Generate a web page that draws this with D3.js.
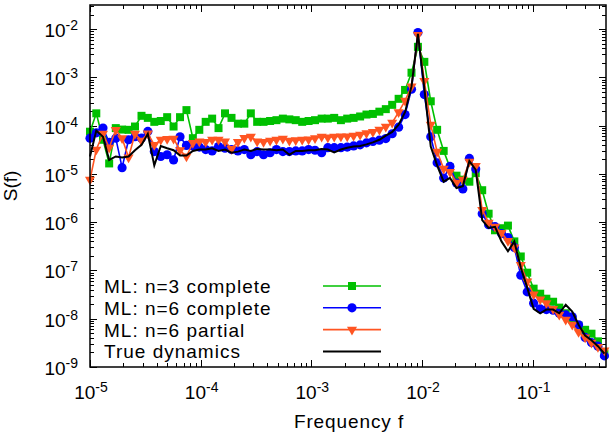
<!DOCTYPE html>
<html>
<head>
<meta charset="utf-8">
<script src="https://cdn.jsdelivr.net/npm/d3@7"></script>
<style>
  body { margin: 0; background: #fff; }
  svg { display: block; font-family: "Liberation Sans", Arial, sans-serif; }
</style>
</head>
<body>
<svg id="chart" width="611" height="437"></svg>
<script>
// frequency grid
const freqs = [
  1.00e-5, 1.14e-5, 1.31e-5, 1.49e-5, 1.71e-5, 1.95e-5, 2.23e-5, 2.55e-5, 2.92e-5, 3.33e-5,
  3.81e-5, 4.36e-5, 4.98e-5, 5.69e-5, 6.51e-5, 7.44e-5, 8.50e-5, 9.72e-5, 1.11e-4, 1.27e-4,
  1.45e-4, 1.66e-4, 1.90e-4, 2.17e-4, 2.48e-4, 2.84e-4, 3.24e-4, 3.70e-4, 4.24e-4, 4.84e-4,
  5.53e-4, 6.33e-4, 7.23e-4, 8.27e-4, 9.45e-4, 1.08e-3, 1.24e-3, 1.41e-3, 1.61e-3, 1.85e-3,
  2.11e-3, 2.41e-3, 2.76e-3, 3.15e-3, 3.60e-3, 4.12e-3, 4.71e-3, 5.38e-3, 6.15e-3, 7.03e-3,
  8.04e-3, 9.19e-3, 1.05e-2, 1.20e-2, 1.37e-2, 1.57e-2, 1.79e-2, 2.05e-2, 2.34e-2, 2.68e-2,
  3.06e-2, 3.50e-2, 4.00e-2, 4.57e-2, 5.23e-2, 5.98e-2, 6.83e-2, 7.81e-2, 8.93e-2, 1.02e-1,
  1.17e-1, 1.33e-1, 1.53e-1, 1.74e-1, 1.99e-1, 2.28e-1, 2.60e-1, 2.98e-1, 3.40e-1, 3.89e-1,
  4.45e-1
];

const mlN3Complete = [
  7.5e-5, 1.8e-4, 5.1e-5, 1.65e-5, 8.9e-5, 8.3e-5, 8.2e-5, 9.6e-5, 1.6e-4, 1.45e-4,
  1.2e-4, 1.25e-4, 1.5e-4, 9.6e-5, 1.5e-4, 2.1e-4, 5.5e-5, 8.2e-5, 1.2e-4, 1.4e-4,
  8.9e-5, 1.8e-4, 1.45e-4, 1.1e-4, 1.1e-4, 1.8e-4, 1.2e-4, 1.2e-4, 1.25e-4, 1.3e-4,
  1.4e-4, 1.35e-4, 1.3e-4, 1.2e-4, 1.25e-4, 1.3e-4, 1.4e-4, 1.4e-4, 1.45e-4, 1.3e-4,
  1.4e-4, 1.45e-4, 1.55e-4, 1.7e-4, 1.75e-4, 1.95e-4, 2.2e-4, 2.7e-4, 3.6e-4, 5.5e-4,
  1.25e-3, 4.3e-3, 2.1e-3, 3.2e-4, 8.2e-5, 3.0e-5, 1.35e-5, 9.2e-6, 7.6e-6, 6.9e-6,
  1.04e-5, 4.6e-6, 1.5e-6, 6.8e-7, 7.5e-7, 8.5e-7, 4.0e-7, 1.95e-7, 9.0e-8, 4.2e-8,
  3.3e-8, 2.6e-8, 2.25e-8, 1.7e-8, 1.3e-8, 9.6e-9, 7.2e-9, 5.9e-9, 4.9e-9, 3.4e-9,
  1.9e-9
];

const mlN6Complete = [
  5.5e-5, 7.1e-5, 8.9e-5, 4.5e-5, 5.5e-5, 1.35e-5, 5.1e-5, 5.9e-5, 5.5e-5, 7.6e-5,
  2.9e-5, 2.3e-5, 2.5e-5, 1.95e-5, 5.9e-5, 3.9e-5, 3.8e-5, 3.6e-5, 3.2e-5, 3.0e-5,
  3.7e-5, 3.4e-5, 3.2e-5, 3.0e-5, 3.2e-5, 2.5e-5, 2.9e-5, 2.5e-5, 2.75e-5, 3.2e-5,
  2.9e-5, 2.9e-5, 3.0e-5, 3.0e-5, 3.2e-5, 3.1e-5, 2.75e-5, 3.5e-5, 3.5e-5, 3.5e-5,
  3.6e-5, 3.8e-5, 4.0e-5, 4.4e-5, 4.7e-5, 5.0e-5, 5.4e-5, 6.8e-5, 9.3e-5, 1.7e-4,
  5.7e-4, 8.5e-3, 4.4e-4, 5.9e-5, 1.7e-5, 8.2e-6, 1.43e-5, 6.5e-6, 4.9e-6, 2.1e-5,
  1.26e-5, 1.5e-6, 8.9e-7, 8.1e-7, 5.8e-7, 4.8e-7, 3.0e-7, 8.0e-8, 3.6e-8, 2.1e-8,
  1.6e-8, 1.55e-8, 1.5e-8, 1.3e-8, 1.2e-8, 1.1e-8, 7.5e-9, 4.1e-9, 3.2e-9, 2.7e-9,
  1.7e-9
];

const mlN6Partial = [
  7.6e-6, 3.2e-5, 6.8e-5, 3.5e-5, 8.2e-5, 5.5e-5, 2.2e-5, 6.8e-5, 4.9e-5, 6.9e-5,
  4.0e-5, 5.1e-5, 5.3e-5, 5.4e-5, 3.1e-5, 2.3e-5, 4.4e-5, 4.7e-5, 4.6e-5, 5.1e-5,
  5.1e-5, 4.7e-5, 3.3e-5, 4.6e-5, 5.6e-5, 5.9e-5, 4.7e-5, 4.6e-5, 4.9e-5, 5.1e-5,
  5.4e-5, 4.9e-5, 5.0e-5, 5.1e-5, 5.2e-5, 5.5e-5, 5.9e-5, 5.7e-5, 5.9e-5, 6.0e-5,
  6.0e-5, 6.2e-5, 6.5e-5, 7.0e-5, 7.4e-5, 8.3e-5, 9.5e-5, 1.15e-4, 1.9e-4, 3.3e-4,
  6.5e-4, 7.6e-3, 8.5e-4, 1.05e-4, 2.9e-5, 1.28e-5, 1.1e-5, 6.6e-6, 7.6e-6, 1.8e-5,
  1.47e-5, 1.8e-6, 9.8e-7, 8.1e-7, 6.0e-7, 4.1e-7, 3.0e-7, 1.3e-7, 5.9e-8, 3.2e-8,
  2.5e-8, 2.1e-8, 1.6e-8, 1.22e-8, 9.6e-9, 7.5e-9, 5.3e-9, 4.1e-9, 3.2e-9, 2.6e-9,
  2.2e-9
];

const trueDynamics = [
  2.3e-5, 7.9e-5, 5.9e-5, 1.95e-5, 2.3e-5, 2.2e-5, 2.3e-5, 3.1e-5, 4.0e-5, 6.8e-5,
  1.5e-5, 3.8e-5, 3.4e-5, 3.1e-5, 2.4e-5, 2.4e-5, 3.0e-5, 3.2e-5, 3.2e-5, 3.4e-5,
  3.0e-5, 3.2e-5, 2.75e-5, 2.9e-5, 3.2e-5, 3.0e-5, 3.3e-5, 3.2e-5, 3.2e-5, 3.1e-5,
  3.2e-5, 2.5e-5, 3.0e-5, 3.0e-5, 3.1e-5, 3.1e-5, 3.3e-5, 3.2e-5, 2.8e-5, 3.2e-5,
  3.5e-5, 3.7e-5, 3.8e-5, 4.1e-5, 4.5e-5, 5.1e-5, 6.2e-5, 7.4e-5, 1.05e-4, 1.9e-4,
  6.5e-4, 8.0e-3, 6.0e-4, 3.7e-5, 1.5e-5, 6.9e-6, 8.3e-6, 5.1e-6, 5.6e-6, 1.85e-5,
  1.22e-5, 1.1e-6, 7.6e-7, 8.0e-7, 4.0e-7, 2.5e-7, 4.0e-7, 1.15e-7, 4.4e-8, 1.6e-8,
  1.3e-8, 1.55e-8, 1.55e-8, 1.3e-8, 1.95e-8, 1.4e-8, 7.5e-9, 4.5e-9, 3.6e-9, 2.7e-9,
  1.9e-9
];

const seriesLabels = ['ML: n=3 complete', 'ML: n=6 complete', 'ML: n=6 partial', 'True dynamics'];
const xTickExps = [-5, -4, -3, -2, -1];
const yTickExps = [-9, -8, -7, -6, -5, -4, -3, -2];

const svg = d3.select('#chart');
const plot = { left: 90, right: 606, top: 5, bottom: 367 };

const x = d3.scaleLog().domain([1e-5, 0.46]).range([plot.left, plot.right]);
const y = d3.scaleLog().domain([1e-9, Math.pow(10, -1.5)]).range([plot.bottom, plot.top]);

const series = [
  { name: seriesLabels[0], values: mlN3Complete, color: '#00c000', symbol: d3.symbolSquare, size: 64, rot: 0 },
  { name: seriesLabels[1], values: mlN6Complete, color: '#0000ff', symbol: d3.symbolCircle, size: 66, rot: 0 },
  { name: seriesLabels[2], values: mlN6Partial, color: '#ff5522', symbol: d3.symbolTriangle, size: 44, rot: 180 },
  { name: seriesLabels[3], values: trueDynamics, color: '#000000', symbol: null, width: 2 }
];

const line = d3.line().x(d => x(d.f)).y(d => y(d.v));

// minor + major tick positions, 1..9 per decade
function logTicks(scale) {
  const [lo, hi] = scale.domain();
  const out = [];
  for (let e = Math.floor(Math.log10(lo)); e <= Math.ceil(Math.log10(hi)); e++) {
    for (let m = 1; m <= 9; m++) {
      const v = m * Math.pow(10, e);
      if (v >= lo * 0.999 && v <= hi * 1.001) out.push({ v, major: m === 1 });
    }
  }
  return out;
}

const ticks = svg.append('g').attr('stroke', '#000').attr('stroke-width', 1);
logTicks(x).forEach(t => {
  const px = Math.round(x(t.v)) + 0.5, len = t.major ? 7 : 4;
  ticks.append('line').attr('x1', px).attr('x2', px).attr('y1', plot.bottom).attr('y2', plot.bottom - len);
  ticks.append('line').attr('x1', px).attr('x2', px).attr('y1', plot.top).attr('y2', plot.top + len);
});
logTicks(y).forEach(t => {
  const py = Math.round(y(t.v)) + 0.5, len = t.major ? 7 : 4;
  ticks.append('line').attr('y1', py).attr('y2', py).attr('x1', plot.left).attr('x2', plot.left + len);
  ticks.append('line').attr('y1', py).attr('y2', py).attr('x1', plot.right).attr('x2', plot.right - len);
});

// tick labels 10^n
function powLabel(g, e) {
  g.append('tspan').text('10');
  g.append('tspan').attr('dy', -7).attr('font-size', 14).text(String(e));
}

xTickExps.forEach(e => {
  const t = svg.append('text')
    .attr('x', x(Math.pow(10, e)) + 1)
    .attr('y', 399)
    .attr('text-anchor', 'middle')
    .attr('font-size', 19);
  powLabel(t, e);
});

yTickExps.forEach(e => {
  const t = svg.append('text')
    .attr('x', 78)
    .attr('y', y(Math.pow(10, e)) + 8)
    .attr('text-anchor', 'end')
    .attr('font-size', 19);
  powLabel(t, e);
});

svg.append('text')
  .attr('x', 349).attr('y', 428)
  .attr('text-anchor', 'middle')
  .attr('font-size', 19)
  .attr('letter-spacing', 0.9)
  .text('Frequency f');

svg.append('text')
  .attr('transform', 'translate(17,186) rotate(-90)')
  .attr('text-anchor', 'middle')
  .attr('font-size', 19)
  .text('S(f)');

// series
series.forEach(s => {
  const pts = freqs.map((f, i) => ({ f, v: s.values[i] }));
  const g = svg.append('g');
  g.append('path')
    .datum(pts)
    .attr('fill', 'none')
    .attr('stroke', s.color)
    .attr('stroke-width', s.width || 1.6)
    .attr('stroke-linejoin', 'miter')
    .attr('d', line);
  if (s.symbol) {
    const sym = d3.symbol().type(s.symbol).size(s.size);
    g.selectAll('path.pt')
      .data(pts)
      .enter()
      .append('path')
      .attr('class', 'pt')
      .attr('d', sym)
      .attr('fill', s.color)
      .attr('transform', d => `translate(${x(d.f)},${y(d.v)}) rotate(${s.rot})`);
  }
});

// legend
const legend = svg.append('g');
series.forEach((s, i) => {
  const by = 293 + i * 21.8;
  legend.append('text')
    .attr('x', 104).attr('y', by)
    .attr('font-size', 19)
    .attr('letter-spacing', 1)
    .text(s.name);
  legend.append('line')
    .attr('x1', 323).attr('x2', 381)
    .attr('y1', by - 7).attr('y2', by - 7)
    .attr('stroke', s.color)
    .attr('stroke-width', s.width || 1.6);
  if (s.symbol) {
    legend.append('path')
      .attr('d', d3.symbol().type(s.symbol).size(s.size))
      .attr('fill', s.color)
      .attr('transform', `translate(352,${by - 7}) rotate(${s.rot})`);
  }
});

// frame
svg.append('rect')
  .attr('x', plot.left).attr('y', plot.top)
  .attr('width', plot.right - plot.left)
  .attr('height', plot.bottom - plot.top)
  .attr('fill', 'none')
  .attr('stroke', '#000')
  .attr('stroke-width', 1.5);
</script>
</body>
</html>
